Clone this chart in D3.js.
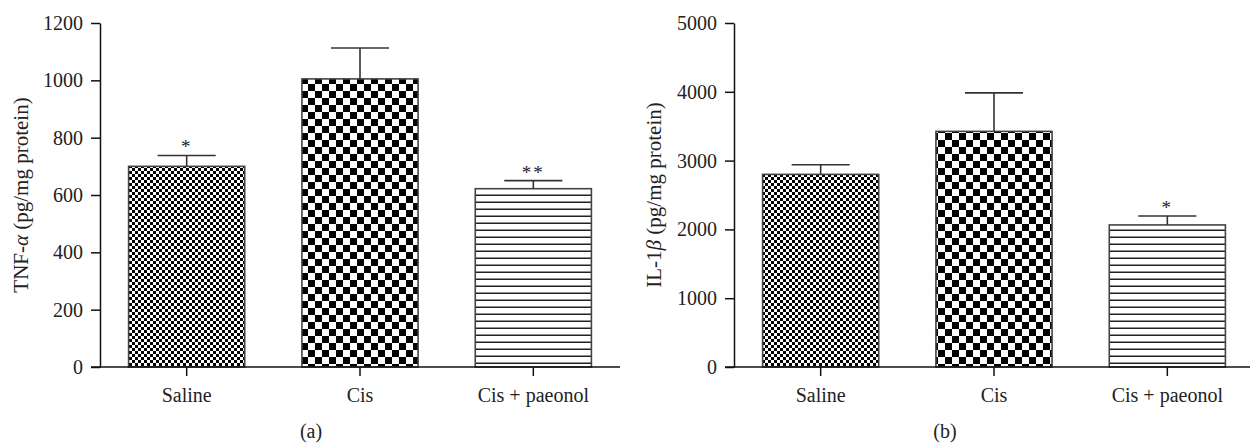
<!DOCTYPE html>
<html>
<head>
<meta charset="utf-8">
<script src="https://cdn.jsdelivr.net/npm/d3@7/dist/d3.min.js"></script>
<style>
  html, body { margin: 0; padding: 0; background: #fff; }
  svg { display: block; }
  text { font-family: "Liberation Serif", "Times New Roman", serif; fill: #222; }
</style>
</head>
<body>
<svg id="chart" width="1250" height="445"></svg>
<script>
// ---- data ----
const categories = ["Saline", "Cis", "Cis + paeonol"];
const tnfMeans = [700, 1005, 622];
const tnfErrors = [38, 108, 28];
const tnfStars = ["*", "", "**"];
const tnfTicks = [0, 200, 400, 600, 800, 1000, 1200];

const ilMeans = [2800, 3425, 2065];
const ilErrors = [140, 560, 130];
const ilStars = ["", "", "*"];
const ilTicks = [0, 1000, 2000, 3000, 4000, 5000];

const patternIds = ["pSmallCheck", "pBigCheck", "pStripes"];

const svg = d3.select("#chart");
const defs = svg.append("defs");

// small checkerboard
const p1 = defs.append("pattern").attr("id", "pSmallCheck")
  .attr("patternUnits", "userSpaceOnUse").attr("width", 6).attr("height", 6);
p1.append("rect").attr("width", 6).attr("height", 6).attr("fill", "#fff");
p1.append("rect").attr("x", 0).attr("y", 0).attr("width", 3).attr("height", 3).attr("fill", "#000");
p1.append("rect").attr("x", 3).attr("y", 3).attr("width", 3).attr("height", 3).attr("fill", "#000");

// big checkerboard
const p2 = defs.append("pattern").attr("id", "pBigCheck")
  .attr("patternUnits", "userSpaceOnUse").attr("width", 14).attr("height", 14);
p2.append("rect").attr("width", 14).attr("height", 14).attr("fill", "#fff");
p2.append("rect").attr("x", 0).attr("y", 0).attr("width", 7).attr("height", 7).attr("fill", "#000");
p2.append("rect").attr("x", 7).attr("y", 7).attr("width", 7).attr("height", 7).attr("fill", "#000");

// horizontal stripes
const p3 = defs.append("pattern").attr("id", "pStripes")
  .attr("patternUnits", "userSpaceOnUse").attr("width", 10).attr("height", 7);
p3.append("rect").attr("width", 10).attr("height", 7).attr("fill", "#fff");
p3.append("rect").attr("x", 0).attr("y", 5.5).attr("width", 10).attr("height", 1.5).attr("fill", "#222");

function drawPanel(opt) {
  const g = svg.append("g");
  const y = d3.scaleLinear().domain([0, opt.max]).range([367, 23]);
  const x = d3.scaleBand().domain(categories).range([opt.left, opt.left + 520])
    .paddingInner(0.33).paddingOuter(0.165);

  // bars
  g.selectAll("rect.bar").data(opt.means).join("rect")
    .attr("class", "bar")
    .attr("x", (d, i) => x(categories[i]))
    .attr("y", d => y(d))
    .attr("width", x.bandwidth())
    .attr("height", d => y(0) - y(d))
    .attr("fill", (d, i) => `url(#${patternIds[i]})`)
    .attr("stroke", "#444")
    .attr("stroke-width", 1.6);

  // error bars
  const cx = i => x(categories[i]) + x.bandwidth() / 2;
  const capW = x.bandwidth() / 2;
  opt.means.forEach((m, i) => {
    const top = y(m + opt.errors[i]);
    g.append("line").attr("x1", cx(i)).attr("x2", cx(i))
      .attr("y1", y(m)).attr("y2", top)
      .attr("stroke", "#333").attr("stroke-width", 1.6);
    g.append("line").attr("x1", cx(i) - capW / 2).attr("x2", cx(i) + capW / 2)
      .attr("y1", top).attr("y2", top)
      .attr("stroke", "#333").attr("stroke-width", 1.6);
    if (opt.stars[i]) {
      g.append("text").attr("x", cx(i)).attr("y", top - 2)
        .attr("text-anchor", "middle").attr("font-size", 19)
        .attr("letter-spacing", 2)
        .text(opt.stars[i]);
    }
  });

  // y axis
  const yAxis = d3.axisLeft(y).tickValues(opt.ticks).tickSize(9).tickPadding(8)
    .tickSizeOuter(0).tickFormat(d3.format("d"));
  const ya = g.append("g").attr("transform", `translate(${opt.left},0)`).call(yAxis);
  ya.select(".domain").attr("stroke", "#111").attr("stroke-width", 1.5);
  ya.selectAll(".tick line").attr("stroke", "#111").attr("stroke-width", 1.5);
  ya.selectAll(".tick text").attr("font-size", 20).attr("fill", "#222")
    .attr("font-family", '"Liberation Serif", serif');

  // x axis
  const xAxis = d3.axisBottom(x).tickSize(9).tickPadding(12).tickSizeOuter(0);
  const xa = g.append("g").attr("transform", `translate(0,${y(0)})`).call(xAxis);
  xa.select(".domain").attr("d", `M${opt.left - 9},0H${opt.left + 520}`)
    .attr("stroke", "#111").attr("stroke-width", 1.5);
  xa.selectAll(".tick line").attr("stroke", "#111").attr("stroke-width", 1.5);
  xa.selectAll(".tick text").attr("font-size", 20).attr("fill", "#222")
    .attr("font-family", '"Liberation Serif", serif');

  // y axis title
  const t = g.append("text")
    .attr("transform", `translate(${opt.titleX},195) rotate(-90)`)
    .attr("text-anchor", "middle").attr("font-size", 21);
  t.append("tspan").text(opt.titlePre);
  t.append("tspan").attr("font-style", "italic").text(opt.titleGreek);
  t.append("tspan").text(" (pg/mg protein)");

  // panel letter
  g.append("text").attr("x", opt.letterX).attr("y", 438)
    .attr("text-anchor", "middle").attr("font-size", 20).text(opt.letter);
}

drawPanel({ left: 100, max: 1200, means: tnfMeans, errors: tnfErrors, stars: tnfStars,
  ticks: tnfTicks, titleX: 28, titlePre: "TNF-", titleGreek: "α", letter: "(a)", letterX: 311 });
drawPanel({ left: 734, max: 5000, means: ilMeans, errors: ilErrors, stars: ilStars,
  ticks: ilTicks, titleX: 661, titlePre: "IL-1", titleGreek: "β", letter: "(b)", letterX: 945 });
</script>
</body>
</html>
